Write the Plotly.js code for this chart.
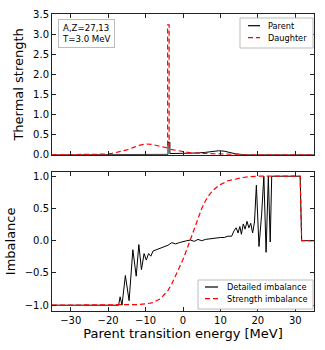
<!DOCTYPE html>
<html>
<head>
<meta charset="utf-8">
<script src="https://cdn.plot.ly/plotly-3.0.1.min.js"></script>
<style>
  body { margin: 0; background: #fff; }
  #plot { width: 325px; height: 350px; }
</style>
</head>
<body>
<div id="plot"></div>
<script>
// thermal strength (top panel)
const parentE = [-35, -8, -4.0, -4.0, -3.5, -3.5, -2, 0, 2, 4, 6, 8, 9.5, 11, 12.5, 14, 16, 18, 35];
const parentStrength = [0, 0.01, 0.01, 0.31, 0.31, 0.03, 0.03, 0.03, 0.035, 0.045, 0.06, 0.085, 0.1, 0.09, 0.06, 0.025, 0.005, 0, 0];

const daughterE = [-35, -25, -23, -21, -19, -17, -15, -13, -11.5, -10, -8.5, -7, -5.5, -4.1, -4.1, -3.7, -3.7, -2, 0, 2, 4, 6, 8, 10, 12, 14, 16, 35];
const daughterStrength = [0, 0, 0.005, 0.015, 0.035, 0.07, 0.12, 0.19, 0.24, 0.27, 0.26, 0.23, 0.2, 0.17, 3.23, 3.23, 0.14, 0.11, 0.07, 0.05, 0.04, 0.035, 0.03, 0.025, 0.02, 0.01, 0, 0];

// imbalance (bottom panel)
const detailedE = [-35, -17.2, -16.8, -16.3, -15.4, -14.4, -13.4, -12.5, -11.8, -11.1, -10.4, -9.8, -9.2, -8.6, -8, -7, -6, -5, -4, -3, -2, -1, 0, 1, 2, 3, 4, 5, 6, 7, 8, 9, 10, 11, 12, 13, 13.6, 14.2, 14.7, 15.2, 15.6, 16.1, 16.6, 17.1, 17.6, 18.1, 18.6, 19.1, 19.6, 20.3, 21.0, 21.6, 22.2, 22.8, 23.3, 23.7, 31.3, 31.7, 35];
const detailedImb = [-1, -1, -0.87, -1, -0.54, -0.93, -0.14, -0.55, -0.06, -0.45, -0.2, -0.3, -0.2, -0.24, -0.16, -0.14, -0.11, -0.1, -0.07, -0.03, -0.05, -0.03, -0.01, 0.0, 0.01, -0.01, 0.02, 0.0, 0.02, 0.03, 0.03, 0.04, 0.05, 0.05, 0.07, 0.07, 0.15, 0.2, 0.12, 0.22, 0.1, 0.26, 0.18, 0.3, 0.2, 0.27, 0.12, 0.29, 0.86, -0.09, 0.4, 1.0, -0.18, 1.0, -0.02, 1.0, 1.0, 0, 0];

const strengthE = [-35, -17, -14, -12, -10, -8, -6, -5, -4, -3, -2, -1, 0, 1, 2, 3, 4, 5, 6, 7, 8, 9, 10, 12, 14, 16, 18, 20, 31.3, 31.7, 35];
const strengthImb = [-1, -1, -0.995, -0.99, -0.98, -0.96, -0.9, -0.84, -0.77, -0.67, -0.55, -0.43, -0.29, -0.14, 0.01, 0.18, 0.34, 0.5, 0.62, 0.71, 0.78, 0.83, 0.87, 0.93, 0.96, 0.98, 0.995, 1.0, 1.0, 0, 0];

const xTicks = [-30, -20, -10, 0, 10, 20, 30];
const font = "DejaVu Sans, sans-serif";
const redDash = "5px,3px";

const traces = [
  {x: parentE, y: parentStrength, xaxis: "x", yaxis: "y", mode: "lines", name: "Parent",
   line: {color: "black", width: 1}},
  {x: daughterE, y: daughterStrength, xaxis: "x", yaxis: "y", mode: "lines", name: "Daughter",
   line: {color: "red", width: 1.2, dash: redDash}},
  {x: detailedE, y: detailedImb, xaxis: "x2", yaxis: "y2", mode: "lines", name: "Detailed imbalance",
   line: {color: "black", width: 1}},
  {x: strengthE, y: strengthImb, xaxis: "x2", yaxis: "y2", mode: "lines", name: "Strength imbalance",
   line: {color: "red", width: 1.2, dash: redDash}}
];

function axisBase() {
  return {
    showline: true, linecolor: "#222", linewidth: 1, mirror: "ticks",
    ticks: "inside", ticklen: 4, tickcolor: "#222", showgrid: false, zeroline: false,
    tickfont: {family: font, size: 10, color: "black"}
  };
}

// legends are drawn by hand (matplotlib-style compact boxes); pixel -> paper helpers
const M = {l: 52, r: 11, t: 14, b: 39};
const W = 325, H = 350;
const px = (v) => (v - M.l) / (W - M.l - M.r);
const py = (v) => (H - M.b - v) / (H - M.t - M.b);

function legendBox(x0, y0, x1, y1, items, shapes, notes) {
  shapes.push({type: "rect", xref: "paper", yref: "paper", x0: px(x0), x1: px(x1), y0: py(y1), y1: py(y0),
    line: {color: "#bbb", width: 1}, fillcolor: "white", layer: "above"});
  items.forEach((it) => {
    shapes.push({type: "line", xref: "paper", yref: "paper", x0: px(it.lx0), x1: px(it.lx1), y0: py(it.y), y1: py(it.y),
      line: {color: it.color, width: 1.2, dash: it.dash}, layer: "above"});
    notes.push({xref: "paper", yref: "paper", x: px(it.tx), y: py(it.y), xanchor: "left", yanchor: "middle",
      text: it.text, showarrow: false, font: {family: font, size: 8.2, color: "black"}});
  });
}

const shapes = [];
const notes = [{
  xref: "paper", yref: "paper", x: 0.023, xanchor: "left", y: 0.983, yanchor: "top",
  text: "A,Z=27,13<br>T=3.0 MeV", align: "left", showarrow: false,
  font: {family: font, size: 8.6}, bordercolor: "#bbb", borderwidth: 1, borderpad: 3, bgcolor: "white"
}];

legendBox(240, 18, 313, 48, [
  {text: "Parent", color: "black", dash: "solid", y: 25.7, lx0: 248, lx1: 260, tx: 266},
  {text: "Daughter", color: "red", dash: redDash, y: 37.7, lx0: 248, lx1: 260, tx: 266}
], shapes, notes);

legendBox(198, 280, 313, 309, [
  {text: "Detailed imbalance", color: "black", dash: "solid", y: 287, lx0: 205, lx1: 218, tx: 224.5},
  {text: "Strength imbalance", color: "red", dash: redDash, y: 298.7, lx0: 205, lx1: 218, tx: 224.5}
], shapes, notes);

const layout = {
  width: W, height: H,
  margin: M,
  showlegend: false,
  paper_bgcolor: "white", plot_bgcolor: "white",
  font: {family: font, color: "black"},
  xaxis: Object.assign(axisBase(), {anchor: "y", range: [-35, 35], tickvals: xTicks, showticklabels: false}),
  yaxis: Object.assign(axisBase(), {anchor: "x", domain: [0.526, 1], range: [0, 3.5], dtick: 0.5, tickformat: ".1f",
    title: {text: "Thermal strength", font: {family: font, size: 13}, standoff: 6}}),
  xaxis2: Object.assign(axisBase(), {anchor: "y2", range: [-35, 35], tickvals: xTicks,
    title: {text: "Parent transition energy [MeV]", font: {family: font, size: 13}, standoff: 2}}),
  yaxis2: Object.assign(axisBase(), {anchor: "x2", domain: [0, 0.469], range: [-1.09, 1.07], tickvals: [-1, -0.5, 0, 0.5, 1], tickformat: ".1f",
    title: {text: "Imbalance", font: {family: font, size: 13}, standoff: 6}}),
  shapes: shapes,
  annotations: notes
};

Plotly.newPlot("plot", traces, layout, {displayModeBar: false, staticPlot: true});
</script>
</body>
</html>
